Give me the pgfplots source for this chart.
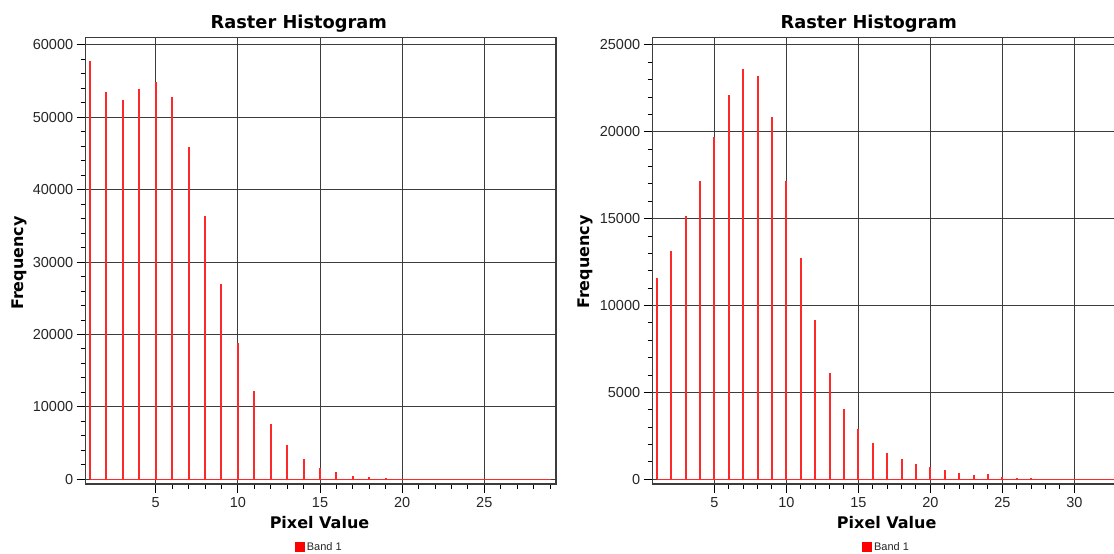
\documentclass[border=0pt]{standalone}
\usepackage{pgfplots}
\pgfplotsset{compat=1.18}
\usepackage{fontspec}
\setmainfont{Liberation Sans}
\newfontfamily\labfont{DejaVu Sans}
\definecolor{spike}{RGB}{255,40,40}
\definecolor{gridc}{RGB}{60,60,60}
\pgfplotsset{
  histo/.style={
    scale only axis,
    axis line style={gridc, line width=1.1bp},
    grid=major,
    major grid style={gridc, line width=1bp},
    tick align=outside,
    xtick pos=bottom, ytick pos=left,
    major tick length=9bp,
    minor tick length=5bp,
    tick style={black, line width=1bp},
    minor x tick num=4,
    minor y tick num=4,
    xtick={5,10,...,30},
    scaled y ticks=false,
    /pgf/number format/assume math mode=true,
    /pgf/number format/set thousands separator={},
    tick label style={font=\fontsize{14.5bp}{16bp}\selectfont, text=black!85},
    xticklabel style={yshift=-1bp},
    legend style={draw=none, fill=none, inner sep=0pt, anchor=center,
      font=\fontsize{11bp}{13bp}\selectfont, text=black!85},
    legend image code/.code={\fill[red] (0bp,-4bp) rectangle (8bp,4bp);},
  }
}
\begin{document}
\begin{tikzpicture}[x=1bp,y=1bp]
\path[use as bounding box] (0,0) rectangle (1114,554);
% Left panel
\begin{axis}[histo, at={(85.7bp,70bp)}, anchor=south west,
  width=470.3bp, height=446.3bp,
  xmin=0.738, xmax=29.364, ymin=-649, ymax=61008,
  ytick={0,10000,...,60000},
  legend style={at={(0.4967,-0.1412)}}]
\addplot[spike, line width=1.2bp, forget plot] coordinates {(1,0) (29,0)};
\addplot[ycomb, spike, line width=2bp, mark=none] coordinates {
(1,57800) (2,53450) (3,52400) (4,53970) (5,54890) (6,52780) (7,45870)
(8,36380) (9,26980) (10,18790) (11,12160) (12,7680) (13,4740) (14,2800)
(15,1600) (16,1000) (17,460) (18,320) (19,150) (20,100) (21,60) (22,40)
(23,30) (24,20) (25,20) (26,20) (27,20) (28,20) (29,20)};
\addlegendentry{Band 1}
\end{axis}
% Right panel
\begin{axis}[histo, at={(652.7bp,70bp)}, anchor=south west,
  width=468.3bp, height=446.3bp,
  xmin=0.722, xmax=33.24, ymin=-270.5, ymax=25420,
  ytick={0,5000,...,25000},
  legend style={at={(0.4993,-0.1412)}}]
\addplot[spike, line width=1.2bp, forget plot] coordinates {(1,0) (33.2,0)};
\addplot[ycomb, spike, line width=2bp, mark=none] coordinates {
(1,11570) (2,13160) (3,15160) (4,17170) (5,19690) (6,22120) (7,23600)
(8,23220) (9,20840) (10,17170) (11,12720) (12,9150) (13,6140) (14,4050)
(15,2910) (16,2110) (17,1530) (18,1170) (19,880) (20,710) (21,520)
(22,360) (23,250) (24,290) (25,130) (26,60) (27,50) (28,20) (29,20)
(30,15) (31,15) (32,15) (33,15)};
\addlegendentry{Band 1}
\end{axis}
% Titles and labels
\node[anchor=base, inner sep=0pt, font=\labfont\bfseries\fontsize{17.8bp}{20bp}\selectfont] at (298.8,525.7) {Raster Histogram};
\node[anchor=base, inner sep=0pt, font=\labfont\bfseries\fontsize{17.8bp}{20bp}\selectfont] at (868.8,525.7) {Raster Histogram};
\node[anchor=base, inner sep=0pt, font=\labfont\bfseries\fontsize{16bp}{18bp}\selectfont] at (319.5,25.7) {Pixel Value};
\node[anchor=base, inner sep=0pt, font=\labfont\bfseries\fontsize{16bp}{18bp}\selectfont] at (886.7,25.7) {Pixel Value};
\node[rotate=90, anchor=center, inner sep=0pt, font=\labfont\bfseries\fontsize{16bp}{18bp}\selectfont] at (19.5,291) {Frequency};
\node[rotate=90, anchor=center, inner sep=0pt, font=\labfont\bfseries\fontsize{16bp}{18bp}\selectfont] at (585.5,292) {Frequency};
\end{tikzpicture}
\end{document}
